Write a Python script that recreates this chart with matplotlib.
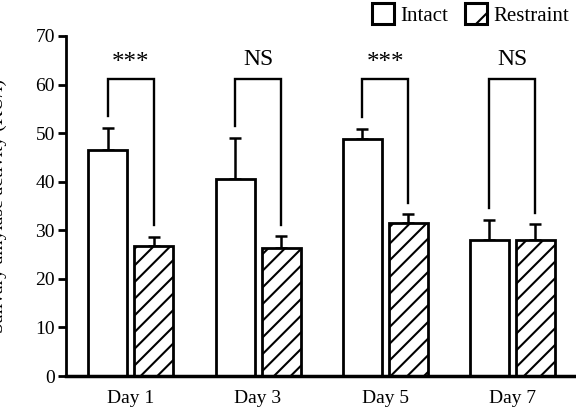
import matplotlib
matplotlib.use('Agg')
import matplotlib.pyplot as plt
from matplotlib.patches import Patch
import numpy as np

plt.rcParams['font.family'] = 'Liberation Serif'
plt.rcParams['font.size'] = 14
plt.rcParams['hatch.linewidth'] = 1.5

# data
days = ['Day 1', 'Day 3', 'Day 5', 'Day 7']
intact = [46.6, 40.5, 48.8, 28.0]
intact_err = [4.4, 8.5, 2.1, 4.1]
restraint = [26.7, 26.3, 31.4, 27.9]
restraint_err = [2.0, 2.5, 1.9, 3.4]
sig_labels = ['***', 'NS', '***', 'NS']

fig = plt.figure(figsize=(5.76, 4.17), dpi=100)
ax = fig.add_axes([0.1146, 0.0983, 0.8854, 0.8154])

x = np.arange(len(days))
w = 0.307
off = 0.181

ax.bar(x - off, intact, w, color='white', edgecolor='black', linewidth=2, zorder=2)
ax.bar(x + off, restraint, w, color='white', edgecolor='black', linewidth=2,
       hatch='//', zorder=2)
ax.errorbar(x - off, intact, yerr=[np.zeros(4), intact_err], fmt='none',
            ecolor='black', elinewidth=1.8, capsize=4, capthick=1.8, zorder=1)
ax.errorbar(x + off, restraint, yerr=[np.zeros(4), restraint_err], fmt='none',
            ecolor='black', elinewidth=1.8, capsize=4, capthick=1.8, zorder=1)

# significance brackets
top = 61.2
for i in range(len(days)):
    y1 = intact[i] + intact_err[i] + 2.5
    y2 = restraint[i] + restraint_err[i] + 2.3
    ax.plot([x[i] - off, x[i] - off, x[i] + off, x[i] + off], [y1, top, top, y2],
            color='black', lw=1.7, solid_joinstyle='miter', zorder=3)
    if sig_labels[i] == 'NS':
        ax.text(x[i], top + 1.8, 'NS', ha='center', va='bottom', fontsize=17)
    else:
        ax.text(x[i], top + 0.9, '***', ha='center', va='bottom', fontsize=18)

ax.set_xlim(-0.51, 3.5)
ax.set_ylim(0, 70)
ax.set_yticks(range(0, 71, 10))
ax.set_xticks(x)
ax.set_xticklabels(days)
ax.tick_params(axis='x', length=0, pad=10)
ax.tick_params(axis='y', length=6, width=2, pad=2)
for s in ['top', 'right']:
    ax.spines[s].set_visible(False)
ax.spines['left'].set_linewidth(2)
ax.spines['bottom'].set_linewidth(2.5)

ax.set_ylabel('Salivary amylase activity (KU/l)')
ax.yaxis.set_label_coords(-0.115, 0.5)

handles = [Patch(facecolor='white', edgecolor='black', linewidth=2.2, label='Intact'),
           Patch(facecolor='white', edgecolor='black', linewidth=2.2, hatch='/',
                 label='Restraint')]
fig.legend(handles=handles, loc='upper left', bbox_to_anchor=(369 / 576, 1.0),
           ncol=2, frameon=False, borderpad=0.15, borderaxespad=0,
           handlelength=1.05, handleheight=1.15, handletextpad=0.3,
           columnspacing=0.8, fontsize=15)

fig.savefig('out.png', dpi=100)
